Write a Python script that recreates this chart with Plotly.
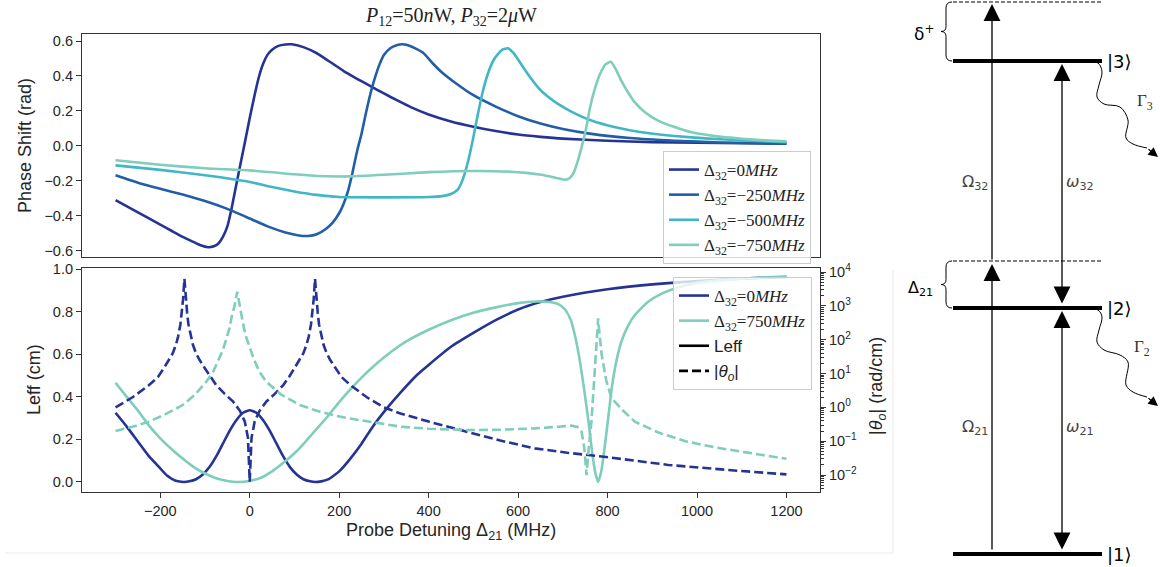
import numpy as np
import plotly.graph_objects as go

# ---------------- data: top panel (phase shift, rad) ----------------
x_ps_0 = [-300, -250, -200, -175, -150, -125, -110, -93, -80, -70, -60, -50, -40, -30, -20, -10, 0, 10, 20, 30, 40, 50, 64, 80, 94,
          120, 150, 165, 180, 195, 210, 240, 270, 300, 330, 360, 400, 450, 500, 550, 600, 650, 700, 800, 900, 1000, 1100, 1200]
ps_0 = [-0.31, -0.38, -0.45, -0.485, -0.52, -0.55, -0.568, -0.579, -0.574, -0.558, -0.52, -0.46, -0.35, -0.22, -0.095, 0.031, 0.16,
        0.28, 0.39, 0.47, 0.522, 0.55, 0.572, 0.58, 0.581, 0.565, 0.53, 0.505, 0.48, 0.454, 0.428, 0.384, 0.342, 0.30, 0.26, 0.222,
        0.18, 0.14, 0.11, 0.085, 0.065, 0.052, 0.042, 0.03, 0.022, 0.018, 0.015, 0.013]

x_ps_250 = [-300, -250, -200, -150, -100, -50, 0, 40, 80, 110, 130, 150, 170, 185, 200, 210, 220, 230, 240, 250, 260, 270, 280,
            290, 300, 315, 330, 342, 360, 387, 410, 430, 460, 500, 550, 600, 650, 700, 764, 850, 950, 1050, 1200]
ps_250 = [-0.168, -0.21, -0.245, -0.278, -0.315, -0.36, -0.415, -0.46, -0.495, -0.512, -0.515, -0.505, -0.475, -0.44, -0.385,
          -0.33, -0.255, -0.15, -0.03, 0.07, 0.19, 0.30, 0.39, 0.465, 0.52, 0.56, 0.577, 0.581, 0.57, 0.534, 0.47, 0.42, 0.36,
          0.29, 0.225, 0.17, 0.128, 0.097, 0.069, 0.045, 0.03, 0.02, 0.013]

x_ps_500 = [-300, -200, -100, 0, 50, 100, 150, 200, 300, 400, 430, 450, 465, 475, 487, 500, 510, 520, 532, 545, 555, 565, 577,
            590, 607, 625, 645, 665, 689, 720, 764, 820, 876, 950, 1026, 1100, 1200]
ps_500 = [-0.111, -0.137, -0.168, -0.206, -0.235, -0.26, -0.28, -0.292, -0.294, -0.292, -0.287, -0.275, -0.25, -0.2, -0.1, 0.05,
          0.18, 0.30, 0.41, 0.49, 0.525, 0.55, 0.558, 0.53, 0.467, 0.40, 0.334, 0.285, 0.24, 0.195, 0.145, 0.105, 0.078, 0.057,
          0.042, 0.032, 0.022]

x_ps_750 = [-300, -200, -100, 0, 100, 150, 225, 300, 400, 500, 577, 652, 690, 705, 715, 725, 733, 742, 752, 761, 772, 783, 795,
            807, 818, 831, 845, 861, 885, 913, 950, 988, 1040, 1101, 1150, 1200]
ps_750 = [-0.082, -0.108, -0.128, -0.14, -0.162, -0.172, -0.174, -0.165, -0.15, -0.143, -0.147, -0.165, -0.185, -0.193, -0.185,
          -0.15, -0.09, -0.007, 0.10, 0.221, 0.33, 0.41, 0.465, 0.481, 0.44, 0.372, 0.31, 0.249, 0.19, 0.145, 0.108, 0.078, 0.056,
          0.041, 0.032, 0.026]

# ---------------- data: bottom panel ----------------
x_leff_0 = [-300, -275, -250, -225, -200, -185, -170, -160, -147, -135, -120, -105, -90, -75, -60, -45, -30, -15, 0, 15, 30, 45,
            60, 75, 90, 105, 120, 135, 147, 160, 175, 200, 225, 250, 275, 307, 337, 375, 400, 450, 500, 550, 600, 650,
            700, 800, 900, 1000, 1100, 1200]
leff_0 = [0.325, 0.26, 0.19, 0.12, 0.064, 0.03, 0.01, 0.003, 0.0, 0.003, 0.013, 0.035, 0.07, 0.12, 0.18, 0.24, 0.29, 0.325, 0.337,
          0.325, 0.29, 0.24, 0.18, 0.12, 0.07, 0.035, 0.013, 0.003, 0.0, 0.003, 0.012, 0.05, 0.11, 0.18, 0.26, 0.347, 0.42, 0.505,
          0.55, 0.635, 0.70, 0.76, 0.81, 0.845, 0.87, 0.905, 0.928, 0.944, 0.955, 0.963]

x_leff_750 = [-300, -275, -250, -225, -200, -175, -150, -125, -100, -75, -50, -28, 0, 25, 50, 75, 100, 125, 150, 175, 200, 225,
              250, 275, 300, 350, 400, 450, 500, 550, 600, 640, 670, 690, 705, 718, 728, 738, 748, 757, 765, 772, 779, 786, 794,
              802, 810, 820, 831, 845, 861, 890, 921, 960, 1000, 1100, 1200]
leff_750 = [0.466, 0.40, 0.335, 0.265, 0.205, 0.155, 0.11, 0.07, 0.04, 0.018, 0.005, 0.0, 0.005, 0.02, 0.05, 0.09, 0.135, 0.19,
            0.25, 0.31, 0.375, 0.435, 0.49, 0.54, 0.585, 0.66, 0.715, 0.76, 0.795, 0.82, 0.84, 0.848, 0.845, 0.835, 0.81, 0.76,
            0.68, 0.57, 0.43, 0.29, 0.15, 0.05, 0.0, 0.05, 0.17, 0.31, 0.45, 0.57, 0.66, 0.73, 0.784, 0.845, 0.885, 0.915, 0.935,
            0.955, 0.965]

x_theta_0 = [-300, -262, -225, -205, -190, -180, -172, -165, -160, -155, -152, -149, -146, -143, -140, -137, -132, -127, -120,
             -112, -100, -88, -75, -56, -37, -22, -11, -4, 0, 4, 11, 22, 37, 56, 75, 88, 100, 112, 120, 127, 132, 137, 140, 143,
             146, 149, 152, 155, 160, 165, 172, 180, 190, 205, 225, 262, 300, 337, 400, 450, 487, 560, 637, 710, 787, 860, 936,
             1070, 1200]
theta_0_log10 = [0.0, 0.3, 0.66, 0.9, 1.2, 1.4, 1.6, 1.85, 2.1, 2.45, 2.8, 3.2, 3.8, 3.2, 2.8, 2.45, 2.1, 1.85, 1.6, 1.4, 1.15,
                 0.9, 0.66, 0.4, 0.17, -0.1, -0.42, -0.9, -2.2, -0.9, -0.42, -0.1, 0.17, 0.4, 0.66, 0.9, 1.15, 1.4, 1.6, 1.85,
                 2.1, 2.45, 2.8, 3.2, 3.8, 3.2, 2.8, 2.45, 2.1, 1.85, 1.6, 1.4, 1.2, 0.9, 0.66, 0.3, 0.0, -0.18, -0.42, -0.6,
                 -0.72, -0.98, -1.21, -1.34, -1.45, -1.58, -1.70, -1.85, -1.98]

x_theta_750 = [-300, -262, -225, -188, -150, -122, -97, -82, -70, -60, -52, -45, -40, -34, -28, -23, -18, -13, -7, 2, 10, 22, 37,
               70, 112, 150, 187, 225, 260, 300, 337, 400, 487, 560, 637, 690, 719, 733, 742, 748, 753, 758, 764, 770, 775, 779,
               783, 787, 797, 809, 835, 861, 915, 974, 1040, 1100, 1200]
theta_750_log10 = [-0.70, -0.57, -0.42, -0.2, 0.07, 0.38, 0.76, 1.05, 1.4, 1.7, 2.04, 2.35, 2.7, 3.0, 3.42, 3.0, 2.7, 2.35,
                   2.04, 1.7, 1.4, 1.05, 0.76, 0.38, 0.07, -0.1, -0.23, -0.33, -0.4, -0.5, -0.57, -0.63, -0.67, -0.66, -0.62,
                   -0.57, -0.54, -0.58, -0.72, -1.2, -2.0, -1.2, -0.42, 0.8, 2.04, 2.63, 2.04, 1.55, 0.8, 0.27, -0.1, -0.42,
                   -0.75, -1.0, -1.18, -1.3, -1.52]

x_ticks = [-200, 0, 200, 400, 600, 800, 1000, 1200]
ps_ticks = [-0.6, -0.4, -0.2, 0.0, 0.2, 0.4, 0.6]
leff_ticks = [0.0, 0.2, 0.4, 0.6, 0.8, 1.0]
theta_exps = [-2, -1, 0, 1, 2, 3, 4]

# ---------------- level-diagram geometry (diagram pixel frame) ----------------
level_y = [554, 308, 61]          # |1>, |2>, |3>
level_names = ["|1⟩", "|2⟩", "|3⟩"]
virtual_y = [261, 2]
level_x = [953, 1102]
omega_x = 992
w_x = 1062

gamma3_x = [1080, 1098, 1102, 1099, 1097, 1104, 1120, 1128, 1126, 1133, 1147]
gamma3_y = [61, 63, 72, 85, 97, 104, 107, 120, 138, 144, 148]
gamma2_x = [1080, 1098, 1102, 1099, 1097, 1104, 1120, 1128, 1126, 1133, 1147]
gamma2_y = [308, 310, 317, 330, 342, 350, 355, 362, 385, 392, 397]

C0, C250, C500, C750 = "#253494", "#225ea8", "#41b6c4", "#7fcdbb"
SANS = "Liberation Sans"
SERIF = "Liberation Serif"
LW = 2.6
DASH = "9px,4px"

fig = go.Figure()

def d32(v):
    return f"Δ<sub>32</sub>={v}<i>MHz</i>"

SOLID = dict(width=LW, shape="spline", smoothing=0.5)

for xs, ys, col, lab in [(x_ps_0, ps_0, C0, d32("0")), (x_ps_250, ps_250, C250, d32("−250")),
                         (x_ps_500, ps_500, C500, d32("−500")), (x_ps_750, ps_750, C750, d32("−750"))]:
    fig.add_trace(go.Scatter(x=xs, y=ys, mode="lines", line=dict(color=col, **SOLID),
                             name=lab, xaxis="x", yaxis="y", legend="legend"))

fig.add_trace(go.Scatter(x=x_theta_0, y=10 ** np.array(theta_0_log10), mode="lines",
                         line=dict(color=C0, width=LW, dash=DASH), showlegend=False, xaxis="x2", yaxis="y3"))
fig.add_trace(go.Scatter(x=x_theta_750, y=10 ** np.array(theta_750_log10), mode="lines",
                         line=dict(color=C750, width=LW, dash=DASH), showlegend=False, xaxis="x2", yaxis="y3"))
fig.add_trace(go.Scatter(x=x_leff_0, y=leff_0, mode="lines", line=dict(color=C0, **SOLID),
                         name=d32("0"), xaxis="x2", yaxis="y2", legend="legend2"))
fig.add_trace(go.Scatter(x=x_leff_750, y=leff_750, mode="lines", line=dict(color=C750, **SOLID),
                         name=d32("750"), xaxis="x2", yaxis="y2", legend="legend2"))
fig.add_trace(go.Scatter(x=[None], y=[None], mode="lines", line=dict(color="black", width=LW),
                         name=f"<span style='font-family:{SANS}'>Leff</span>", xaxis="x2", yaxis="y2", legend="legend2"))
fig.add_trace(go.Scatter(x=[None], y=[None], mode="lines", line=dict(color="black", width=LW, dash=DASH),
                         name=f"<span style='font-family:{SANS}'>|<i>θ<sub>o</sub></i>|</span>", xaxis="x2", yaxis="y2",
                         legend="legend2"))

# wavy decay lines
for gx, gy in [(gamma3_x, gamma3_y), (gamma2_x, gamma2_y)]:
    fig.add_trace(go.Scatter(x=gx, y=gy, mode="lines", line=dict(color="black", width=1, shape="spline", smoothing=1.0),
                             showlegend=False, xaxis="x4", yaxis="y4", hoverinfo="skip"))

XD = [82 / 1160, 820 / 1160]
TICKFONT = dict(family=SANS, size=14.5, color="#262626")
axis_common = dict(showline=True, linecolor="#333", linewidth=1.2, mirror=True, showgrid=False, zeroline=False,
                   tickfont=TICKFONT, ticks="outside", ticklen=5, tickcolor="#333", automargin=False)

minor_vals = [k * 10.0 ** d for d in range(-3, 5) for k in range(2, 10)]

fig.update_layout(
    width=1160, height=567, margin=dict(l=0, r=0, t=0, b=0, pad=0, autoexpand=False),
    paper_bgcolor="white", plot_bgcolor="white", showlegend=True,
    xaxis=dict(domain=XD, anchor="y", range=[-375, 1275], showline=True, linecolor="#333", linewidth=1.2, mirror=True,
               showgrid=False, zeroline=False, showticklabels=False, ticks="", automargin=False),
    yaxis=dict(domain=[1 - 257 / 567, 1 - 34 / 567], anchor="x", range=[-0.635, 0.64], tickvals=ps_ticks,
               tickformat=".1f", **axis_common),
    xaxis2=dict(domain=XD, anchor="y2", range=[-375, 1275], tickvals=x_ticks, **axis_common),
    yaxis2=dict(domain=[1 - 492 / 567, 1 - 268 / 567], anchor="x2", range=[-0.047, 1.005], tickvals=leff_ticks,
                tickformat=".1f", **axis_common),
    yaxis3=dict(overlaying="y2", anchor="x2", side="right", type="log", range=[-2.5, 4.12],
                tickvals=[10.0 ** e for e in theta_exps],
                ticktext=[f"10<sup>{str(e).replace('-', '−')}</sup>" for e in theta_exps],
                showline=True, linecolor="#333", linewidth=1.2, showgrid=False, zeroline=False, automargin=False,
                tickfont=TICKFONT, ticks="outside", ticklen=5, tickcolor="#333",
                minor=dict(tickvals=minor_vals, ticks="outside", ticklen=2.5, tickcolor="#333", showgrid=False)),
    xaxis4=dict(domain=[880 / 1160, 1], anchor="y4", range=[880, 1160], visible=False, fixedrange=True, automargin=False),
    yaxis4=dict(domain=[0, 1], anchor="x4", range=[567, 0], visible=False, fixedrange=True, automargin=False),
    legend=dict(x=811 / 1160, y=1 - 151 / 567, xanchor="right", yanchor="top", bgcolor="rgba(255,255,255,0.8)",
                bordercolor="#cccccc", borderwidth=1, font=dict(family=SERIF, size=17, color="#222"),
                tracegroupgap=0, itemwidth=30),
    legend2=dict(x=812 / 1160, y=1 - 277 / 567, xanchor="right", yanchor="top", bgcolor="rgba(255,255,255,0.8)",
                 bordercolor="#cccccc", borderwidth=1, font=dict(family=SERIF, size=17, color="#222"),
                 tracegroupgap=0, itemwidth=30),
)

def ptxt(text, px, py, size=18, family=SANS, angle=0, color="#262626"):
    return dict(text=text, x=px / 1160, y=1 - py / 567, xref="paper", yref="paper", showarrow=False,
                xanchor="center", yanchor="middle", textangle=angle, font=dict(family=family, size=size, color=color))

ann = [
    ptxt("<i>P</i><sub>12</sub>=50<i>n</i>W, <i>P</i><sub>32</sub>=2<i>μ</i>W", 451, 17, size=20, family=SERIF, color="#222"),
    ptxt("Phase Shift (rad)", 25, 146, angle=-90),
    ptxt("Leff (cm)", 34, 380, angle=-90),
    ptxt("|<i>θ<sub>o</sub></i>| (rad/cm)", 877, 386, angle=-90),
    ptxt("Probe Detuning Δ<sub>21</sub> (MHz)", 451, 531),
]

D = dict(xref="x4", yref="y4")
HEAD = dict(arrowhead=2, arrowsize=2.6, arrowwidth=1.3, arrowcolor="black", standoff=0, startstandoff=0,
            startarrowhead=2, startarrowsize=2.6)

def arrow(x, y, ax, ay, both=False):
    return dict(x=x, y=y, ax=ax, ay=ay, axref="x4", ayref="y4", text="", showarrow=True,
                arrowside="end+start" if both else "end", **D, **HEAD)

ann.append(arrow(omega_x, virtual_y[1] + 2, omega_x, virtual_y[0]))
ann.append(arrow(omega_x, virtual_y[0] + 3, omega_x, level_y[0] - 3))
ann.append(arrow(w_x, level_y[2] + 3, w_x, level_y[1] - 3, both=True))
ann.append(arrow(w_x, level_y[1] + 3, w_x, level_y[0] - 3, both=True))
for gx, gy in [(gamma3_x, gamma3_y), (gamma2_x, gamma2_y)]:
    ann.append(dict(x=gx[-1] + 11, y=gy[-1] + 9, ax=gx[-1], ay=gy[-1], axref="x4", ayref="y4", text="", showarrow=True,
                    arrowhead=2, arrowsize=1.6, arrowwidth=1.2, arrowcolor="black", standoff=0, **D))

for ly, nm in zip(level_y, level_names):
    ann.append(dict(text=nm, x=level_x[1] + 3, y=ly, xanchor="left", yanchor="middle", showarrow=False, **D,
                    font=dict(family="DejaVu Sans", size=18, color="black")))

GRAY = dict(family="DejaVu Sans", size=16, color="#444")
for txt, px, py, fnt in [("Ω<sub>32</sub>", 975, 182, GRAY), ("<i>ω</i><sub>32</sub>", 1080, 182, GRAY),
                         ("Ω<sub>21</sub>", 975, 427, GRAY), ("<i>ω</i><sub>21</sub>", 1080, 427, GRAY),
                         ("Γ<sub>3</sub>", 1145, 102, dict(family=SERIF, size=17, color="#333")),
                         ("Γ<sub>2</sub>", 1142, 348, dict(family=SERIF, size=17, color="#333")),
                         ("δ<sup>+</sup>", 924, 33, dict(family="DejaVu Sans", size=17, color="black")),
                         ("Δ<sub>21</sub>", 920, 288, dict(family="DejaVu Sans", size=16, color="black"))]:
    ann.append(dict(text=txt, x=px, y=py, xanchor="center", yanchor="middle", showarrow=False, font=fnt, **D))

shapes = []
for ly in level_y:
    shapes.append(dict(type="line", x0=level_x[0], x1=level_x[1], y0=ly, y1=ly, line=dict(color="black", width=4), **D))
for vy in virtual_y:
    shapes.append(dict(type="line", x0=level_x[0], x1=level_x[1], y0=vy, y1=vy,
                       line=dict(color="black", width=1, dash="4px,2px"), **D))

def brace(y0, y1, xr=952, xm=946, xt=941):
    ym = (y0 + y1) / 2
    return (f"M {xr},{y0} Q {xm},{y0} {xm},{y0 + 6} L {xm},{ym - 5} Q {xm},{ym} {xt},{ym} "
            f"Q {xm},{ym} {xm},{ym + 5} L {xm},{y1 - 6} Q {xm},{y1} {xr},{y1}")

shapes.append(dict(type="path", path=brace(virtual_y[1], level_y[2]), line=dict(color="black", width=1), **D))
shapes.append(dict(type="path", path=brace(virtual_y[0], level_y[1]), line=dict(color="black", width=1), **D))
shapes.append(dict(type="line", xref="paper", yref="paper", x0=893 / 1160, x1=893 / 1160, y0=1 - 553 / 567, y1=1 - 270 / 567,
                   line=dict(color="#e8e8e8", width=1)))
shapes.append(dict(type="line", xref="paper", yref="paper", x0=5 / 1160, x1=893 / 1160, y0=1 - 553 / 567, y1=1 - 553 / 567,
                   line=dict(color="#e8e8e8", width=1)))

fig.update_layout(annotations=ann, shapes=shapes)
fig.write_html("out.html")
